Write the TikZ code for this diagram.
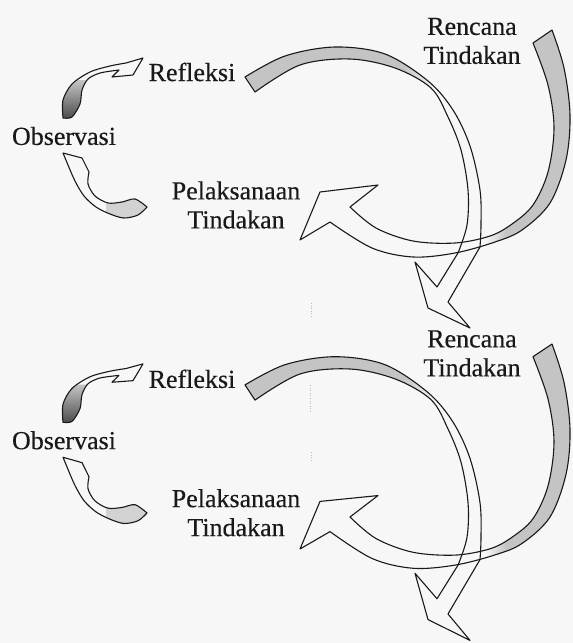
\documentclass[tikz,border=0pt]{standalone}
\usepackage{fontspec}
\setmainfont{Liberation Serif}
\newfontfamily\lblfont[FakeBold=0.35]{Liberation Serif}
\definecolor{bg}{gray}{0.97}
\definecolor{ink}{gray}{0.1}
\definecolor{bandgray}{gray}{0.77}
\newcommand\pathL{(245,77) -- plot[smooth,tension=0.55] coordinates {(245,77) (285,56) (335,47) (385,54) (428,81) (453,110) (470,146) (480,190) (481,225) (480,247)} -- (448,302) -- (470,328) -- (428,308) -- (415,262) -- (437,287) -- (458,253) -- plot[smooth,tension=0.55] coordinates {(458,253) (467,225) (468,190) (461,150) (448,117) (431,88) (395,68) (350,59) (300,65) (255,92)} -- cycle}
\newcommand\pathR{(552,30) -- plot[smooth,tension=0.55] coordinates {(552,30) (564,68) (570,115) (566,160) (550,203) (522,230) (495,242) (455,253) (413,257) (372,248) (330,222)} -- (300,240) -- (320,192) -- (378,185) -- (350,207) -- plot[smooth,tension=0.55] coordinates {(350,207) (376,228) (413,241) (455,243) (490,236) (512,224) (533,205) (548,172) (554,128) (548,85) (533,43)} -- cycle}
\newcommand\pathA{(63,118) -- plot[smooth] coordinates {(63,118) (63,100) (72,84) (90,72) (110,66) (126,63)} -- (143,58) -- (133,75) -- (112,77) -- (119,70) -- plot[smooth] coordinates {(119,70) (100,73) (88,79) (82,90) (80,104) (72,117) (63,118)} -- cycle}
\newcommand\pathB{(147,207) -- plot[smooth] coordinates {(147,207) (138,215) (124,218) (110,214) (96,207) (84,196) (75,181) (68,165)} -- (63,153) -- (82,158) -- (89,172) -- plot[smooth] coordinates {(89,172) (88,184) (95,196) (108,203) (122,202) (135,199) (147,207)} -- cycle}
\newcommand\mycycle[1]{%
  \begin{scope}\clip \pathL;
    \fill[bandgray] (230,30) rectangle (405,110);
    \shade[left color=bandgray,right color=bg] (404,30) rectangle (434,110);
  \end{scope}
  \begin{scope}\clip \pathR;
    \fill[bandgray] (505,0) rectangle (600,260);
    \shade[left color=bg,right color=bandgray] (485,150) rectangle (506,260);
  \end{scope}
  \begin{scope}\clip \pathA;
    \shade[top color=gray!45,bottom color=black!75] (50,80) rectangle (95,122);
  \end{scope}
  \begin{scope}\clip \pathB;
    \fill[gray!35] (106,195) rectangle (152,222);
  \end{scope}
  \draw[outline] \pathL;
  \draw[outline] \pathR;
  \draw[outline] \pathA;
  \draw[outline] \pathB;
  \node[lbl] (#1ren) at (472,41) {Rencana\\Tindakan};
  \node[lbl] (#1ref) at (192,72) {Refleksi};
  \node[lbl] (#1obs) at (64,136) {Observasi};
  \node[lbl] (#1pel) at (236,205) {Pelaksanaan\\Tindakan};
}
\begin{document}
\begin{tikzpicture}[x=1pt,y=-1pt,
  outline/.style={draw=ink,line width=1.1pt,line join=round},
  lbl/.style={font=\lblfont\fontsize{26}{29}\selectfont,text=ink,align=center,inner sep=0pt},
  artifact/.style={draw=gray!55,line width=0.6pt,dotted}]
\fill[bg] (0,0) rectangle (573,643);
\useasboundingbox (0,0) rectangle (573,643);
\mycycle{t}
\begin{scope}[yshift=-303pt,yslant=-0.02]
\mycycle{b}
\end{scope}
\draw[artifact] (311,303) -- (311,318);
\draw[artifact] (310,385) -- (310,412);
\draw[artifact] (311,452) -- (311,462);
\end{tikzpicture}
\end{document}
